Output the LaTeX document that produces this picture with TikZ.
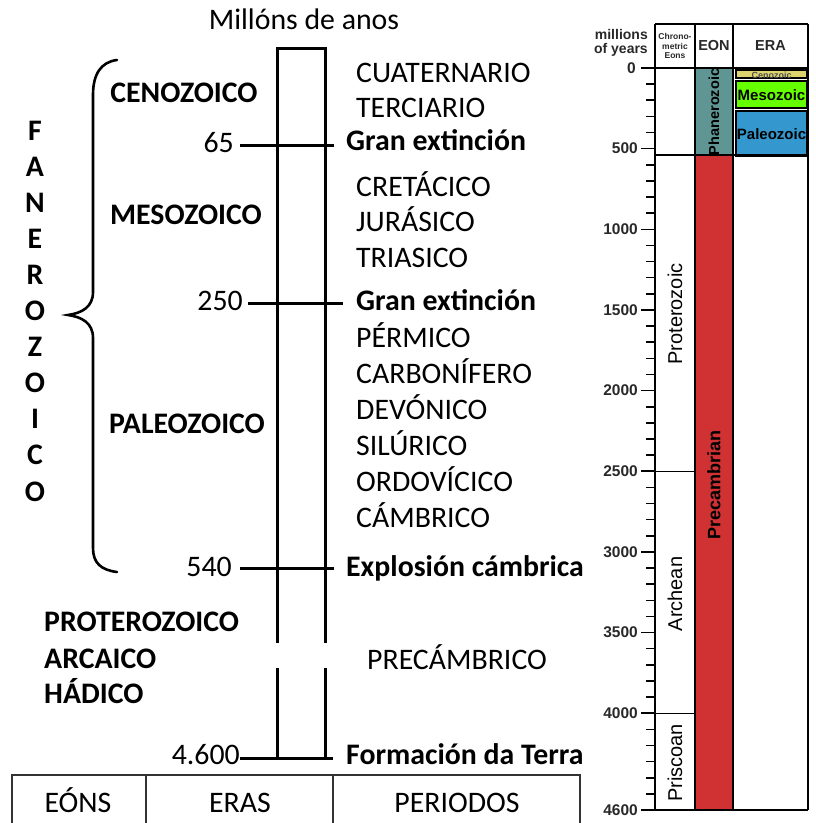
\documentclass[tikz,border=0pt]{standalone}
\usepackage{fontspec}
\setmainfont{Carlito}
\newfontfamily\arialf{Liberation Sans}
\definecolor{phan}{RGB}{95,150,148}
\definecolor{prec}{RGB}{208,50,52}
\definecolor{ceno}{RGB}{222,212,110}
\definecolor{meso}{RGB}{102,255,0}
\definecolor{paleo}{RGB}{52,152,206}
\definecolor{txtg}{RGB}{40,40,40}
\begin{document}
\begin{tikzpicture}[x=1pt,y=-1pt,
  big/.style={font=\fontsize{29.8}{35}\selectfont, inner sep=0pt, text height=19pt, text depth=0pt},
  bigb/.style={font=\fontsize{29.8}{35}\selectfont\bfseries, inner sep=0pt, text height=19pt, text depth=0pt},
  colline/.style={line width=3pt},
  frameline/.style={line width=2pt},
  tickline/.style={line width=1.6pt},
  ticklab/.style={font=\arialf\bfseries\fontsize{15.5}{16}\selectfont, text=txtg, inner sep=0pt, anchor=east},
  rotlab/.style={font=\arialf\fontsize{20}{20}\selectfont, rotate=90, inner sep=0pt},
  boxlab/.style={font=\arialf\bfseries\fontsize{15}{15}\selectfont, inner sep=0pt}]
\useasboundingbox (0,0) rectangle (816,823);
\clip (0,0) rectangle (816,823);

% ---------- title ----------
\node[big] (title) at (304,20) {Millóns de anos};

% ---------- column ----------
\draw[colline] (277,643) -- (277,48) -- (325,48) -- (325,643);
\draw[colline] (277,668) -- (277,758);
\draw[colline] (325,668) -- (325,758);
\draw[colline] (240,145) -- (334,145);
\draw[colline] (248,303) -- (343,303);
\draw[colline] (240,568) -- (334,568);
\draw[colline] (240,758) -- (333,758);

% numbers
\node[big, anchor=east] (n65) at (234,143) {65};
\node[big, anchor=east] (n250) at (243,301) {250};
\node[big, anchor=east] (n540) at (232,567) {540};
\node[big, anchor=east] (n4600) at (240,755) {4.600};

% periods
\node[big, anchor=west] (p1) at (356,73) {CUATERNARIO};
\node[big, anchor=west] (p2) at (356,108) {TERCIARIO};
\node[bigb, anchor=west] (g1) at (346,141) {Gran extinción};
\node[big, anchor=west] (p3) at (356,187) {CRETÁCICO};
\node[big, anchor=west] (p4) at (356,222) {JURÁSICO};
\node[big, anchor=west] (p5) at (356,258) {TRIASICO};
\node[bigb, anchor=west] (g2) at (356,301) {Gran extinción};
\node[big, anchor=west] (p6) at (356,338) {PÉRMICO};
\node[big, anchor=west] (p7) at (356,374) {CARBONÍFERO};
\node[big, anchor=west] (p8) at (356,410) {DEVÓNICO};
\node[big, anchor=west] (p9) at (356,446) {SILÚRICO};
\node[big, anchor=west] (p10) at (356,482) {ORDOVÍCICO};
\node[big, anchor=west] (p11) at (356,518) {CÁMBRICO};
\node[bigb, anchor=west] (g3) at (346,567) {Explosión cámbrica};
\node[big] (prec) at (457,660) {PRECÁMBRICO};
\node[bigb, anchor=west] (g4) at (346,755) {Formación da Terra};

% eras
\node[bigb] (ceno) at (184,93) {CENOZOICO};
\node[bigb] (meso) at (186,215) {MESOZOICO};
\node[bigb] (paleo) at (187,424) {PALEOZOICO};
\node[bigb, anchor=west] (prot) at (44,622) {PROTEROZOICO};
\node[bigb, anchor=west] (arc) at (44,659) {ARCAICO};
\node[bigb, anchor=west] (had) at (44,694) {HÁDICO};

% FANEROZOICO vertical
\foreach \l [count=\i from 0] in {F,A,N,E,R,O,Z,O,I,C,O} {
  \node[bigb] (f\i) at (35,{130.5+\i*36.1}) {\l};
}

% brace
\draw[line width=2.6pt, line cap=round]
  (117,60) .. controls (101,62) and (93,74) .. (93,95) -- (93,292)
  .. controls (93,307) and (82,313) .. (68,315)
  .. controls (82,317) and (93,323) .. (93,338) -- (93,548)
  .. controls (93,563) and (101,570) .. (117,572);

% bottom table
\draw[line width=1.5pt, draw=black!80] (12,775) rectangle (580,840);
\draw[line width=1.5pt, draw=black!80] (146,775) -- (146,840);
\draw[line width=1.5pt, draw=black!80] (333,775) -- (333,840);
\node[big] (teons) at (78,803) {EÓNS};
\node[big] (teras) at (240,803) {ERAS};
\node[big] (tper) at (457,803) {PERIODOS};

% ---------- right chart ----------
\fill[phan] (695,68) rectangle (733,155.3);
\fill[prec] (695,155.3) rectangle (733,810);
\draw[line width=1.2pt, fill=ceno] (736,70) rectangle (807,78);
\draw[line width=1.2pt, fill=meso] (736,81) rectangle (807,108);
\draw[line width=1.2pt, fill=paleo] (736,111) rectangle (807,156);
\begin{scope}
  \clip (736,70) rectangle (807,78);
  \node[font=\arialf\bfseries\fontsize{9}{9}\selectfont, text=black!70, inner sep=0pt] (cenol) at (771.5,75) {Cenozoic};
\end{scope}
\node[boxlab] (mesol) at (771.5,95) {Mesozoic};
\node[boxlab] (paleol) at (771.5,134) {Paleozoic};

\draw[frameline] (655,24) -- (808,24);
\draw[frameline] (655,24) -- (655,810);
\draw[frameline] (695,24) -- (695,810);
\draw[frameline] (733,24) -- (733,810);
\draw[frameline] (808,24) -- (808,810);
\draw[frameline] (641,68) -- (808,68);
\draw[frameline] (655,155.3) -- (808,155.3);
\draw[frameline] (641,810) -- (808,810);

\begin{scope}[shift={(0,68)}, y=-0.16130pt]
  \foreach \t in {100,200,...,4500} {
    \draw[tickline] (646,\t) -- (655,\t);
  }
  \foreach \t in {500,1000,...,4000} {
    \draw[tickline] (641,\t) -- (655,\t);
  }
  \foreach \t in {500,1000,...,4000,4600} {
    \node[ticklab] (tl\t) at (638,\t) {\t};
  }
  \node[ticklab] (tl0) at (636,0) {0};
  \draw[line width=1.2pt] (641,2500) -- (695,2500);
  \draw[line width=1.2pt] (641,4000) -- (695,4000);
\end{scope}

\node[font=\arialf\bfseries\fontsize{14}{14}\selectfont, text=txtg, align=right, anchor=east, inner sep=0pt] (myears) at (648,43) {millions\\[0pt]of years};
\node[font=\arialf\bfseries\fontsize{8.5}{9.5}\selectfont, text=txtg, align=center, inner sep=0pt] (chron) at (675,46) {Chrono-\\metric\\Eons};
\node[font=\arialf\bfseries\fontsize{14.5}{14.5}\selectfont, text=txtg, inner sep=0pt] (eonh) at (714,46) {EON};
\node[font=\arialf\bfseries\fontsize{14.5}{14.5}\selectfont, text=txtg, inner sep=0pt] (erah) at (770.5,46) {ERA};

\node[rotlab] (protl) at (675,314) {Proterozoic};
\node[rotlab] (archl) at (675,594) {Archean};
\node[rotlab] (prisl) at (675,763) {Priscoan};
\node[font=\arialf\bfseries\fontsize{14.5}{14.5}\selectfont, rotate=90, inner sep=0pt] (phanl) at (714,112) {Phanerozoic};
\node[font=\arialf\bfseries\fontsize{18}{18}\selectfont, rotate=90, inner sep=0pt] (precl) at (714,485) {Precambrian};
\end{tikzpicture}
\end{document}
